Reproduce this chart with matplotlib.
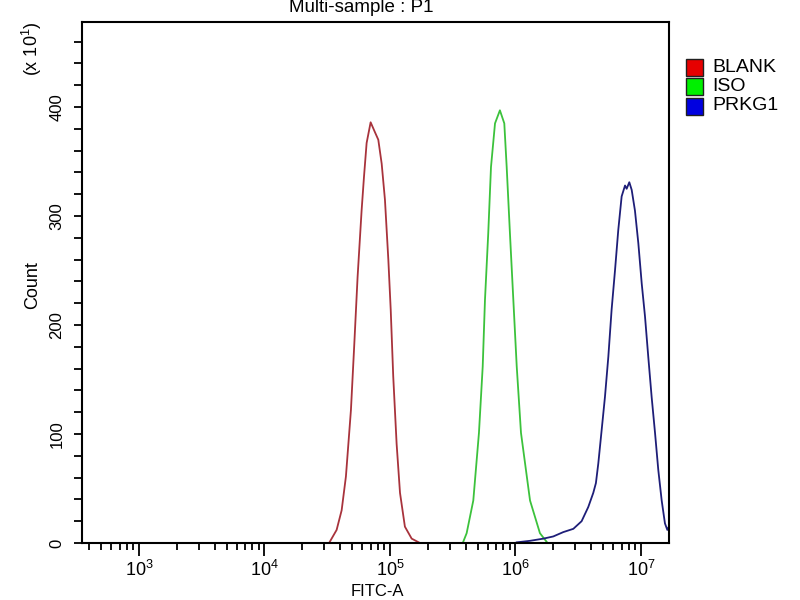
import matplotlib
matplotlib.use("Agg")
import matplotlib.pyplot as plt
import matplotlib.patches as mpatches
from matplotlib.ticker import LogLocator, MultipleLocator, FixedLocator
import numpy as np

plt.rcParams['font.family'] = ['Liberation Sans', 'DejaVu Sans']
plt.rcParams['mathtext.fontset'] = 'custom'
plt.rcParams['mathtext.rm'] = 'Liberation Sans'

# histogram outlines: log10(FITC-A) and count
blank_logx = [4.52, 4.575, 4.615, 4.649, 4.689, 4.716, 4.742, 4.774, 4.793, 4.814, 4.846,
              4.880, 4.907, 4.934, 4.960, 4.987, 5.006, 5.026, 5.053, 5.080, 5.119, 5.173, 5.239]
blank_count = [1, 12, 30, 61, 122, 183, 244, 305, 336, 367, 386,
               377, 370, 348, 315, 260, 214, 153, 91, 46, 15, 4, 0]

iso_logx = [5.58, 5.611, 5.664, 5.709, 5.739, 5.757, 5.783, 5.805, 5.837, 5.876,
            5.911, 5.930, 5.956, 5.983, 6.010, 6.044, 6.116, 6.195, 6.249]
iso_count = [0, 9, 39, 101, 162, 223, 284, 345, 385, 397,
             385, 345, 284, 223, 162, 101, 39, 9, 1]

prkg1_logx = [6.010, 6.116, 6.222, 6.301, 6.381, 6.461, 6.527, 6.580, 6.620, 6.641,
              6.660, 6.687, 6.713, 6.740, 6.766, 6.793, 6.819, 6.846, 6.873, 6.886,
              6.907, 6.926, 6.952, 6.979, 7.006, 7.032, 7.058, 7.085, 7.112, 7.138,
              7.165, 7.191, 7.210, 7.226]
prkg1_count = [0.6, 2, 4, 6, 10, 13, 20, 33, 46, 55,
               73, 104, 134, 171, 214, 250, 287, 318, 328, 325,
               331, 324, 305, 275, 238, 208, 171, 134, 101, 67,
               39, 18, 12, 16]

series = ['BLANK', 'ISO', 'PRKG1']
line_colors = ['#a8333c', '#3cc23c', '#1e1e78']
legend_colors = ['#e60000', '#00f000', '#0000e0']

fig = plt.figure(figsize=(8, 6), dpi=100)
ax = fig.add_axes([0.1031, 0.095, 0.7331, 0.8683])

for lx, cnt, col in zip([blank_logx, iso_logx, prkg1_logx],
                        [blank_count, iso_count, prkg1_count], line_colors):
    ax.plot(10 ** np.array(lx), cnt, color=col, lw=1.3)

ax.set_xscale('log')
ax.set_xlim(10 ** 2.55, 10 ** 7.223)
ax.set_ylim(0, 478)

ax.xaxis.set_major_locator(LogLocator(base=10, numticks=10))
ax.xaxis.set_minor_locator(LogLocator(base=10, subs=np.arange(2, 10), numticks=20))
ax.yaxis.set_major_locator(FixedLocator([0, 100, 200, 300, 400]))
ax.yaxis.set_minor_locator(MultipleLocator(20))

ax.tick_params(axis='x', which='major', length=9, width=1.3, labelsize=13, pad=3)
ax.tick_params(axis='x', which='minor', length=5, width=1.3)
ax.tick_params(axis='y', which='both', length=6, width=1.3)
ax.tick_params(axis='y', which='major', labelsize=12, labelrotation=90, pad=7)
for lab in ax.get_yticklabels():
    lab.set_va('center')

for sp in ax.spines.values():
    sp.set_linewidth(1.5)

fig.text(361 / 800, 1 - 8 / 600, 'Multi-sample : P1', ha='center', va='center', fontsize=13.5)
fig.text(33 / 800, 1 - 285 / 600, 'Count', rotation=90, ha='center', va='center', fontsize=13)
fig.text(32 / 800, 1 - 49 / 600, r'(x 10$^1$)', rotation=90, ha='center', va='center', fontsize=13)
fig.text(377 / 800, 1 - 591 / 600, 'FITC-A', ha='center', va='center', fontsize=12)

# legend: coloured squares with labels
for i, (name, col) in enumerate(zip(series, legend_colors)):
    yc = 67 + i * 19.5
    fig.patches.append(mpatches.Rectangle((686 / 800, 1 - (yc + 8.5) / 600), 17 / 800, 17 / 600,
                                          transform=fig.transFigure, facecolor=col,
                                          edgecolor='#202020', lw=1.0))
    fig.text(712 / 800, 1 - yc / 600, name, ha='left', va='center', fontsize=14)

fig.savefig('out.png', dpi=100)
